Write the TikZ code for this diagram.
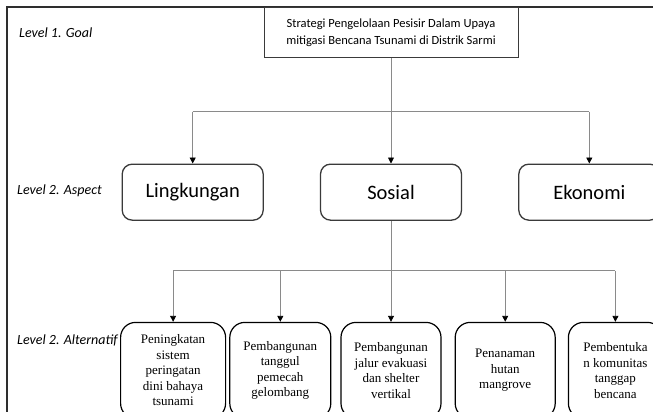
\documentclass[tikz,border=0pt]{standalone}
\usepackage{fontspec}
\setmainfont{Carlito}
\newfontfamily\altserif{Liberation Serif}
\definecolor{framegray}{HTML}{2E2E2E}
\definecolor{linkgray}{HTML}{8A8A8A}
\definecolor{boxgray}{HTML}{3A3A3A}
\usetikzlibrary{arrows.meta, positioning}
\tikzset{
	goalnode/.style={draw=boxgray, line width=1pt, minimum width=254pt, minimum height=50pt,
		align=center, inner sep=2pt, font=\fontsize{12.5}{17}\selectfont},
	aspnode/.style={draw=boxgray, line width=1.3pt, rounded corners=10pt,
		minimum width=141pt, minimum height=56pt, font=\fontsize{20.5}{24}\selectfont},
	altnode/.style={draw=black, line width=1.2pt, rounded corners=15pt, minimum width=100pt,
		minimum height=96pt, align=center, inner sep=1pt, font=\altserif\fontsize{13}{15.5}\selectfont},
	lvl/.style={anchor=west, inner sep=0pt, font=\itshape\fontsize{14}{16}\selectfont},
	link/.style={draw=linkgray, line width=0.9pt},
	larr/.style={link, -{Triangle[length=6pt, width=6pt, color=black]}}
}

\begin{document}
\begin{tikzpicture}[x=1pt, y=-1pt, node distance=56pt]
	\useasboundingbox (0,0) rectangle (653,412);
	\clip (0,0) rectangle (653,412);
	\draw[draw=framegray, line width=2pt] (6.5,430) -- (6.5,7.5) -- (670,7.5);
	% level 1
	\node[goalnode] (goal) at (391,33) {Strategi Pengelolaan Pesisir Dalam Upaya\\mitigasi Bencana Tsunami di Distrik Sarmi};
	% level 2, aspects
	\node[aspnode, below=105pt of goal] (sosial) {Sosial};
	\node[aspnode, left=of sosial] (ling) {Lingkungan};
	\node[aspnode, right=of sosial] (eko) {Ekonomi};
	% level 2, alternatives
	\node[altnode, below=101pt of sosial] (evak) {Pembangunan\\jalur evakuasi\\dan shelter\\vertikal};
	\node[altnode, left=9pt of evak, minimum width=101pt] (tanggul) {Pembangunan\\tanggul\\pemecah\\gelombang};
	\node[altnode, left=3pt of tanggul, minimum width=105pt] (peringatan) {Peningkatan\\sistem\\peringatan\\dini bahaya\\tsunami};
	\node[altnode, right=13pt of evak] (mangrove) {Penanaman\\hutan\\mangrove};
	\node[altnode, right=12pt of mangrove, minimum width=94pt] (komunitas) {Pembentuka\\n komunitas\\tanggap\\bencana};
	% level labels
	\node[lvl] (lvgoal) at (19,33) {Level 1. Goal};
	\node[lvl] (lvasp) at (17,191) {Level 2. Aspect};
	\node[lvl] (lvalt) at (17,340) {Level 2. Alternatif};
	% connectors
	\coordinate[below=53pt of goal] (hubA);
	\draw[link] (goal) -- (hubA);
	\draw[link] (hubA -| ling) -- (hubA -| eko);
	\foreach \n in {ling, sosial, eko}
		\draw[larr] (hubA -| \n) -- (\n);
	\coordinate[below=50pt of sosial] (hubB);
	\draw[link] (sosial) -- (hubB);
	\draw[link] (hubB -| peringatan) -- (hubB -| komunitas);
	\foreach \n in {peringatan, tanggul, evak, mangrove, komunitas}
		\draw[larr] (hubB -| \n) -- (\n);
\end{tikzpicture}
\end{document}
